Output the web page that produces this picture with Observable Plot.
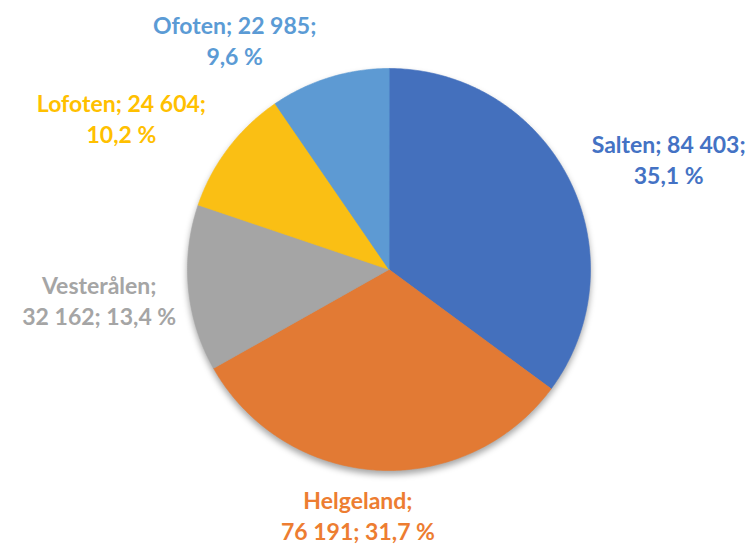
<!DOCTYPE html>
<html>
<head>
<meta charset="utf-8">
<script src="https://cdn.jsdelivr.net/npm/d3@7"></script>
<script src="https://cdn.jsdelivr.net/npm/@observablehq/plot@0.6"></script>
<style>
  html, body { margin: 0; padding: 0; background: #fff; }
  #chart svg g[aria-label="line"] { filter: drop-shadow(0px 4px 3px rgba(0,0,0,0.35)); }
</style>
</head>
<body>
<div id="chart"></div>
<script>
// ---- data ----
const regions = ["Salten", "Helgeland", "Vesterålen", "Lofoten", "Ofoten"];
const values = [84403, 76191, 32162, 24604, 22985];
const percents = ["35,1 %", "31,7 %", "13,4 %", "10,2 %", "9,6 %"];

// ---- styles / layout (not data) ----
const sliceColors = ["#4470BD", "#E27A34", "#A5A5A5", "#FABF14", "#5D9AD3"];
const labelColors = ["#4472C4", "#ED7D31", "#A5A5A5", "#FFC000", "#5B9BD5"];
// label anchor positions in pie-radius units, relative to the pie centre
const labelLayout = [
  {x: 1.388, y: 0.552},
  {x: -0.154, y: -1.22},
  {x: -1.438, y: -0.149},
  {x: -1.328, y: 0.756},
  {x: -0.766, y: 1.144}
];
const labelBreakAfterName = [false, true, true, false, false];

const fmt = v => d3.format(",")(v).replace(/,/g, " ");
const total = d3.sum(values);

// build wedge polygons (clockwise from 12 o'clock)
const wedgePts = [];
let acc = 0;
regions.forEach((r, i) => {
  const a0 = acc / total * 2 * Math.PI;
  acc += values[i];
  const a1 = acc / total * 2 * Math.PI;
  wedgePts.push({region: r, x: 0, y: 0});
  const n = Math.max(2, Math.ceil((a1 - a0) / 0.01));
  for (let k = 0; k <= n; k++) {
    const a = a0 + (a1 - a0) * k / n;
    wedgePts.push({region: r, x: Math.sin(a), y: Math.cos(a)});
  }
});

const labels = regions.map((r, i) => ({
  region: r,
  x: labelLayout[i].x,
  y: labelLayout[i].y,
  text: labelBreakAfterName[i]
    ? `${r};\n${fmt(values[i])}; ${percents[i]}`
    : `${r}; ${fmt(values[i])};\n${percents[i]}`
}));

const chart = Plot.plot({
  width: 753,
  height: 546,
  marginLeft: 187,
  marginRight: 163,
  marginTop: 68,
  marginBottom: 76,
  x: {domain: [-1, 1], axis: null},
  y: {domain: [-1, 1], axis: null},
  color: {domain: regions, range: sliceColors},
  style: {fontFamily: "Lato, sans-serif", background: "#fff"},
  marks: [
    Plot.line(wedgePts, {
      x: "x", y: "y", z: "region",
      fill: "region", stroke: "region", strokeWidth: 0.6,
      curve: "linear-closed"
    }),
    Plot.text(labels, {
      x: "x", y: "y", text: "text",
      fill: d => labelColors[regions.indexOf(d.region)],
      fontSize: 23, fontWeight: "bold", lineHeight: 1.33,
      textAnchor: "middle"
    })
  ]
});
document.getElementById("chart").appendChild(chart);
</script>
</body>
</html>
